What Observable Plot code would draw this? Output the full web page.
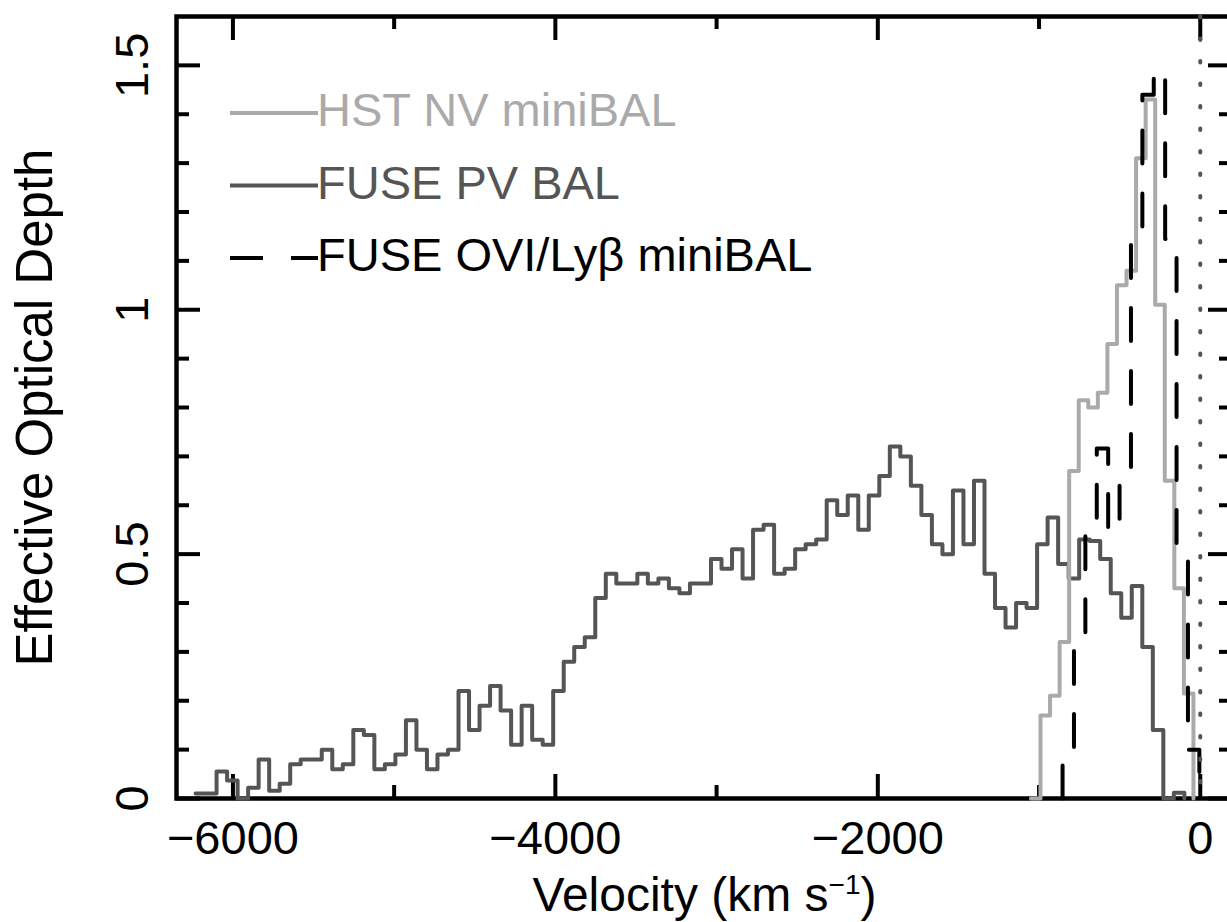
<!DOCTYPE html>
<html><head><meta charset="utf-8">
<script src="https://cdn.jsdelivr.net/npm/d3@7"></script>
<script src="https://cdn.jsdelivr.net/npm/@observablehq/plot@0.6"></script>
<style>html,body{margin:0;padding:0;background:#fff;overflow:hidden;}</style>
</head><body><div id="chart"></div>
<script>
// FUSE PV BAL (bins of equal width in km/s, starting at pvStart)
const pvStart = -6232, pvWidth = 65.25;
const pvValues = [0.01,0.01,0.055,0.037,0.0,0.022,0.08,0.016,0.03,0.07,
  0.08,0.08,0.1,0.06,0.07,0.14,0.13,0.06,0.07,0.09,
  0.16,0.1,0.06,0.09,0.1,0.22,0.14,0.19,0.23,0.18,
  0.11,0.19,0.12,0.11,0.22,0.28,0.31,0.33,0.41,0.46,
  0.44,0.44,0.46,0.44,0.45,0.43,0.42,0.44,0.44,0.49,
  0.47,0.51,0.45,0.55,0.56,0.46,0.47,0.51,0.52,0.53,
  0.61,0.58,0.62,0.55,0.62,0.66,0.72,0.70,0.64,0.58,
  0.52,0.50,0.63,0.52,0.65,0.46,0.39,0.35,0.40,0.39,
  0.52,0.575,0.48,0.45,0.53,0.527,0.49,0.42,0.37,0.435,
  0.31,0.14,0.0,0.012];
// HST NV miniBAL
const nvStart = -1050.3, nvWidth = 59.3;
const nvValues = [0,0.17,0.21,0.32,0.67,0.815,0.80,0.83,0.93,1.05,1.08,1.31,1.43,1.01,0.65,0.43,0.215];
// FUSE OVI/Lyb miniBAL
const oviStart = -854, oviWidth = 70.7;
const oviValues = [0.086,0.32,0.56,0.716,0.545,0.67,1.163,1.44,1.49,1.145,0.516,0.1];

const xMajor = [-6000,-4000,-2000,0];
const xMinor = [-5000,-3000,-1000];
const yMajor = [0,0.5,1,1.5];
const yMinor = [0.1,0.2,0.3,0.4,0.6,0.7,0.8,0.9,1.1,1.2,1.3,1.4];
const legendLabels = ["HST NV miniBAL","FUSE PV BAL","FUSE OVI/Lyβ miniBAL"];
const xTitle = "Velocity (km s−1)";
const yTitle = "Effective Optical Depth";

const colNV = "#aaaaaa", colPV = "#555555", colOVI = "#000000";

function steps(start, width, vals, lead) {
  const pts = [];
  if (lead) pts.push({x: start, y: 0});
  vals.forEach((v, i) => pts.push({x: start + i * width, y: v}));
  pts.push({x: start + vals.length * width, y: 0});
  return pts;
}
const pv = steps(pvStart, pvWidth, pvValues, false);
const nv = steps(nvStart, nvWidth, nvValues, false);
const ovi = steps(oviStart, oviWidth, oviValues, true);

const W = 1227, H = 922;
const mL = 176, mR = -5, mT = 16, mB = 124;
const fw = W - mL - mR, fh = H - mT - mB;
const fmtX = d => d < 0 ? "\u2212" + Math.abs(d) : String(d);
const fmtY = d => String(d);
const tw = 4;

const chart = Plot.plot({
  width: W, height: H,
  marginLeft: mL, marginRight: mR, marginTop: mT, marginBottom: mB,
  style: {fontFamily: "'Liberation Sans', Arial, Helvetica, sans-serif", background: "white", overflow: "visible"},
  x: {domain: [-6350, 200], axis: null},
  y: {domain: [0, 1.6], axis: null},
  marks: [
    Plot.frame({stroke: "black", strokeWidth: 4.5}),
    // x ticks bottom & top
    Plot.tickX(xMajor, {x: d => d, insetTop: fh - 24, stroke: "black", strokeWidth: tw}),
    Plot.tickX(xMinor, {x: d => d, insetTop: fh - 13, stroke: "black", strokeWidth: tw}),
    Plot.tickX(xMajor, {x: d => d, insetBottom: fh - 24, stroke: "black", strokeWidth: tw}),
    Plot.tickX(xMinor, {x: d => d, insetBottom: fh - 13, stroke: "black", strokeWidth: tw}),
    // y ticks left & right
    Plot.tickY(yMajor, {y: d => d, insetRight: fw - 24, stroke: "black", strokeWidth: tw}),
    Plot.tickY(yMinor, {y: d => d, insetRight: fw - 13, stroke: "black", strokeWidth: tw}),
    Plot.tickY(yMajor, {y: d => d, insetLeft: fw - 24, stroke: "black", strokeWidth: tw}),
    Plot.tickY(yMinor, {y: d => d, insetLeft: fw - 13, stroke: "black", strokeWidth: tw}),
    // tick labels
    Plot.text(xMajor, {x: d => d, y: 0, text: fmtX, lineAnchor: "top", dy: 22, fontSize: 47, fill: "black"}),
    Plot.text(yMajor, {y: d => d, text: fmtY, frameAnchor: "left", textAnchor: "middle", dx: -29, rotate: -90, lineAnchor: "bottom", fontSize: 47, fill: "black"}),
    // titles
    Plot.text([xTitle], {frameAnchor: "bottom", dy: 112, lineAnchor: "bottom", fontSize: 48, fill: "black", text: d => d}),
    Plot.text([yTitle], {frameAnchor: "left", textAnchor: "middle", dx: -125, rotate: -90, lineAnchor: "bottom", fontSize: 51, fill: "black", text: d => d}),
    // data
    Plot.line(pv, {x: "x", y: "y", curve: "step-after", stroke: colPV, strokeWidth: 4, strokeLinejoin: "round", strokeLinecap: "round"}),
    Plot.line(nv, {x: "x", y: "y", curve: "step-after", stroke: colNV, strokeWidth: 4, strokeLinejoin: "round", strokeLinecap: "round"}),
    Plot.line(ovi, {x: "x", y: "y", curve: "step-after", stroke: colOVI, strokeWidth: 4, strokeDasharray: "33,30", strokeLinejoin: "round", strokeLinecap: "round"}),
    Plot.ruleX([0], {stroke: colPV, strokeWidth: 4, strokeDasharray: "1.5,21", strokeLinecap: "round"})
  ]
});
document.getElementById("chart").appendChild(chart);

// superscript in the x title
d3.select(chart).selectAll("text").each(function() {
  if (this.textContent === xTitle) {
    const t = d3.select(this);
    t.text("Velocity (km s");
    t.append("tspan").attr("dy", -17).attr("font-size", 28).text("\u22121");
    t.append("tspan").attr("dy", 17).text(")");
  }
});

// legend
const legColors = [colNV, colPV, colOVI];
const lg = d3.select(chart).append("g").attr("font-size", 47).attr("text-anchor", "start")
  .attr("font-family", "'Liberation Sans', Arial, sans-serif");
legendLabels.forEach((lab, i) => {
  const y = 113 + i * 72.5;
  lg.append("line").attr("x1", 230).attr("x2", 318).attr("y1", y).attr("y2", y)
    .attr("stroke", legColors[i]).attr("stroke-width", 4)
    .attr("stroke-dasharray", i === 2 ? "33,28" : null);
  lg.append("text").attr("x", 317).attr("y", y + 13).attr("text-anchor", "start").attr("fill", legColors[i]).text(lab);
});
</script>
</body></html>
